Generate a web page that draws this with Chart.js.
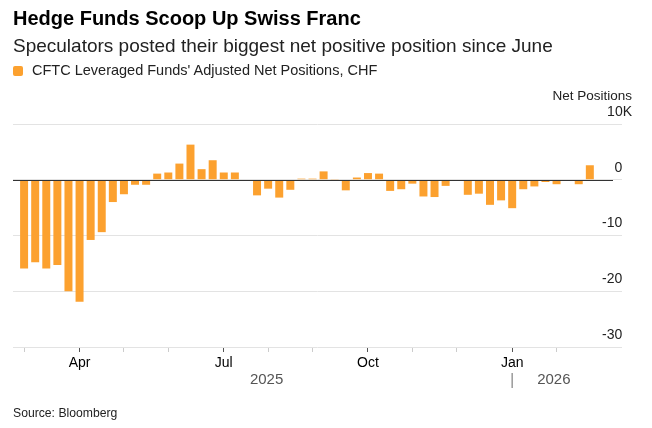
<!DOCTYPE html>
<html>
<head>
<meta charset="utf-8">
<script src="https://cdn.jsdelivr.net/npm/chart.js@4.4.1/dist/chart.umd.min.js"></script>
<style>
  body { margin: 0; background: #fff; font-family: "Liberation Sans", Arial, sans-serif; }
  #wrap { position: relative; width: 652px; height: 428px; overflow: hidden; }
  #chart { position: absolute; left: 0; top: 0; }
  .txt { position: absolute; white-space: nowrap; line-height: 1; }
  #title { left: 13px; top: 8px; font-size: 20px; font-weight: bold; color: #000; }
  #subtitle { left: 13px; top: 36px; font-size: 19px; color: #222; }
  #legend { left: 13px; top: 63px; font-size: 14.5px; color: #222; }
  #legend span { display: inline-block; width: 10px; height: 10px; border-radius: 2px;
    background: #fca12f; margin-right: 9px; vertical-align: -1px; }
  #ytitle { right: 20px; top: 89px; font-size: 13.5px; color: #222; }
  #source { left: 13px; top: 407px; font-size: 12.2px; color: #222; }
</style>
</head>
<body>
<div id="wrap">
  <canvas id="chart" width="652" height="428"></canvas>
  <div class="txt" id="title">Hedge Funds Scoop Up Swiss Franc</div>
  <div class="txt" id="subtitle">Speculators posted their biggest net positive position since June</div>
  <div class="txt" id="legend"><span></span>CFTC Leveraged Funds' Adjusted Net Positions, CHF</div>
  <div class="txt" id="ytitle">Net Positions</div>
  <div class="txt" id="source">Source: Bloomberg</div>
</div>
<script>
// weekly dates (Mondays)
const weeks = [
  "2025-03-03", "2025-03-10", "2025-03-17", "2025-03-24", "2025-03-31",
  "2025-04-07", "2025-04-14", "2025-04-21", "2025-04-28",
  "2025-05-05", "2025-05-12", "2025-05-19", "2025-05-26",
  "2025-06-02", "2025-06-09", "2025-06-16", "2025-06-23", "2025-06-30",
  "2025-07-07", "2025-07-14", "2025-07-21", "2025-07-28",
  "2025-08-04", "2025-08-11", "2025-08-18", "2025-08-25",
  "2025-09-01", "2025-09-08", "2025-09-15", "2025-09-22", "2025-09-29",
  "2025-10-06", "2025-10-13", "2025-10-20", "2025-10-27",
  "2025-11-03", "2025-11-10", "2025-11-17", "2025-11-24",
  "2025-12-01", "2025-12-08", "2025-12-15", "2025-12-22", "2025-12-29",
  "2026-01-05", "2026-01-12", "2026-01-19", "2026-01-26",
  "2026-02-02", "2026-02-09", "2026-02-16", "2026-02-23"
];

// net positions, thousands of contracts
const netPositions = [
  -15.9, -14.8, -15.9, -15.3, -20.0,
  -21.9, -10.8, -9.4, -4.0,
  -2.6, -0.9, -0.9, 1.1,
  1.3, 2.9, 6.3, 1.9, 3.5,
  1.3, 1.3, -0.1, -2.8,
  -1.6, -3.2, -1.8, 0.2,
  0.2, 1.5, 0.05, -1.9, 0.4,
  1.2, 1.1, -2.0, -1.7,
  -0.7, -3.0, -3.1, -1.1,
  -0.2, -2.7, -2.5, -4.5, -3.7,
  -5.1, -1.7, -1.2, -0.4,
  -0.8, -0.1, -0.8, 2.6
];

// one tick per month, labels only on quarters
const monthLabels = ["", "Apr", "", "", "Jul", "", "", "Oct", "", "", "Jan", ""];
const yearLabels = ["2025", "2026"];
const yTicks = [10, 0, -10, -20, -30];

// index of first week of each month
const monthIdx = [];
weeks.forEach((w, i) => {
  if (i === 0 || w.slice(5, 7) !== weeks[i - 1].slice(5, 7)) monthIdx.push(i);
});
const janIdx = monthIdx[monthLabels.indexOf("Jan")];

const zeroLine = {
  id: "zeroLine",
  afterDatasetsDraw(chart) {
    const { ctx, chartArea, scales } = chart;
    const y = Math.round(scales.y.getPixelForValue(0)) + 0.5;
    ctx.save();
    ctx.strokeStyle = "#333";
    ctx.lineWidth = 1;
    ctx.beginPath();
    ctx.moveTo(chartArea.left, y);
    ctx.lineTo(chartArea.right - 9, y);
    ctx.stroke();
    ctx.restore();
  },
  afterDraw(chart) {
    const { ctx, chartArea, scales } = chart;
    const xj = scales.x.getPixelForValue(janIdx);
    ctx.save();
    ctx.font = "15px 'Liberation Sans', Arial, sans-serif";
    ctx.fillStyle = "#555";
    ctx.textBaseline = "middle";
    ctx.textAlign = "center";
    ctx.fillText(yearLabels[0], (chartArea.left + xj) / 2 + 4, 380);
    ctx.textAlign = "left";
    ctx.fillText(yearLabels[1], xj + 25, 380);
    ctx.strokeStyle = "#999";
    ctx.lineWidth = 1.5;
    ctx.beginPath();
    ctx.moveTo(xj, 373);
    ctx.lineTo(xj, 388);
    ctx.stroke();
    ctx.restore();
  },
};

new Chart(document.getElementById("chart"), {
  type: "bar",
  data: {
    datasets: [
      {
        data: netPositions.map((v, i) => ({ x: i, y: v })),
        backgroundColor: "#fca12f",
        barPercentage: 0.72,
        categoryPercentage: 1.0,
      },
    ],
  },
  plugins: [zeroLine],
  options: {
    responsive: false,
    animation: false,
    layout: { padding: { left: 13, right: 10, top: 124, bottom: 41 } },
    plugins: { legend: { display: false }, tooltip: { enabled: false } },
    scales: {
      x: {
        type: "linear",
        offset: false,
        min: -1,
        max: 53.9,
        afterBuildTicks: (s) => {
          s.ticks = monthIdx.map((v) => ({ value: v }));
        },
        afterFit: (s) => {
          s.height = 40;
        },
        grid: {
          offset: false,
          drawOnChartArea: false,
          drawTicks: true,
          tickLength: 5,
          tickColor: (c) => (monthLabels[monthIdx.indexOf(c.tick && c.tick.value)] ? "#555" : "#ccc"),
        },
        border: { display: false },
        ticks: {
          autoSkip: false,
          maxRotation: 0,
          padding: 3,
          color: "#000",
          font: { size: 14, family: "'Liberation Sans', Arial, sans-serif" },
          callback: (v) => monthLabels[monthIdx.indexOf(v)] || "",
        },
      },
      y: {
        position: "right",
        min: -30,
        max: 10,
        afterBuildTicks: (s) => {
          s.ticks = yTicks.map((v) => ({ value: v }));
        },
        grid: { color: "#e3e3e3", lineWidth: 1, drawTicks: false },
        border: { display: false },
        ticks: {
          mirror: true,
          padding: 10,
          labelOffset: -12,
          color: "#222",
          font: { size: 14, family: "'Liberation Sans', Arial, sans-serif" },
          // numbers line up, the K unit hangs past them
          callback: (v) => (v === 10 ? "10K" : String(v) + "\u2002\u2009"),
        },
      },
    },
  },
});
</script>
</body>
</html>
